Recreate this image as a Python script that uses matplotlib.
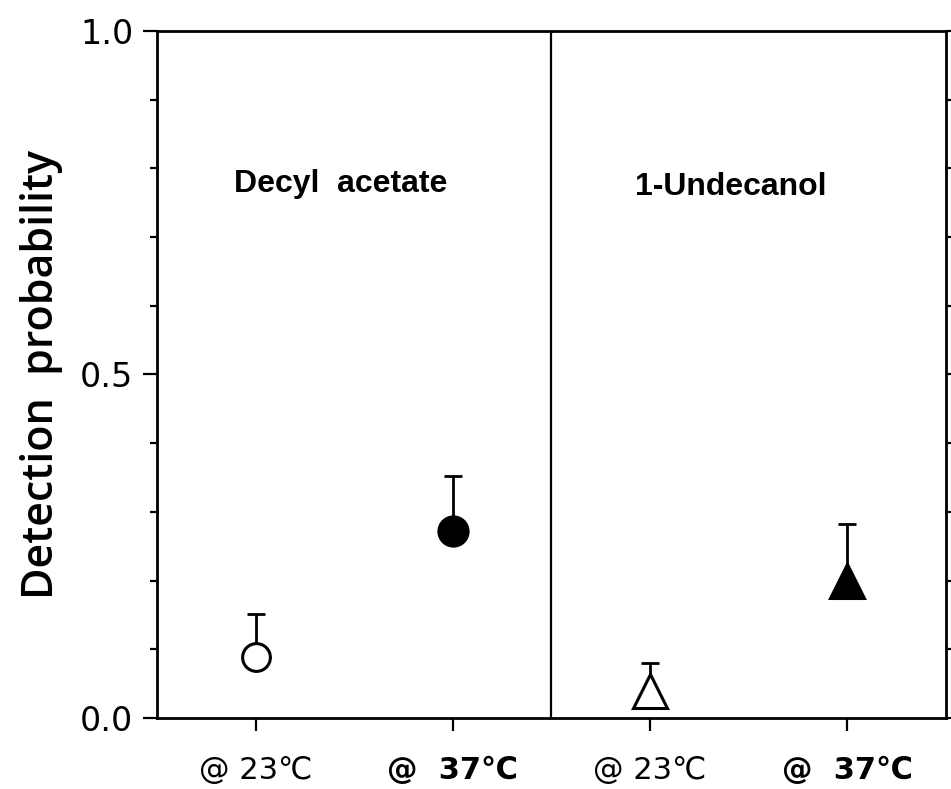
import numpy as np
import matplotlib
matplotlib.use('Agg')
from matplotlib import pyplot as plt

# data
positions = [1, 2, 3, 4]
prob = [0.089, 0.272, 0.040, 0.200]
err_up = [0.062, 0.080, 0.040, 0.082]
markers = ['o', 'o', '^', '^']
filled = [False, True, False, True]
msizes = [20, 21, 24, 24]
xlabels = ['@ 23\u2103', '@  37\u2103', '@ 23\u2103', '@  37\u2103']
xbold = [False, True, False, True]
groups = ['Decyl  acetate', '1-Undecanol']
group_x = [1.43, 3.41]
group_y = [0.777, 0.773]

fig = plt.figure(figsize=(9.51, 7.89), dpi=100)
ax = fig.add_axes([0.165, 0.09, 0.8297, 0.8707])

for i in range(4):
	ax.errorbar(positions[i], prob[i], yerr=[[0], [err_up[i]]], fmt='none',
				ecolor='black', elinewidth=2, capsize=6.5, capthick=2, zorder=2)
	ax.plot(positions[i], prob[i], marker=markers[i], ms=msizes[i],
			mfc='black' if filled[i] else 'white', mec='black', mew=2.2,
			linestyle='none', zorder=3)

ax.axvline(2.5, color='black', lw=1.6)

for i in range(2):
	ax.text(group_x[i], group_y[i], groups[i], ha='center', va='center',
			fontsize=23, fontweight='bold', family=['Liberation Sans', 'DejaVu Sans'])

ax.set_xlim(0.5, 4.5)
ax.set_ylim(0, 1)
ax.set_xticks(positions)
ax.set_xticklabels([])
for i in range(4):
	ax.text(positions[i], -0.076, xlabels[i], ha='center', va='center',
			fontsize=22, family=['DejaVu Sans'],
			fontweight='bold' if xbold[i] else 'normal')
ax.set_yticks([0, 0.5, 1.0])
ax.set_yticklabels(['0.0', '0.5', '1.0'], fontsize=24)
ax.set_yticks(np.arange(0, 1.01, 0.1), minor=True)
ax.tick_params(axis='y', which='both', right=True, direction='out', width=1.6)
ax.tick_params(axis='y', which='major', length=10, pad=7)
ax.tick_params(axis='y', which='minor', length=5)
ax.tick_params(axis='x', which='major', length=9.5, width=1.6)
for s in ax.spines.values():
	s.set_linewidth(2)

ax.set_ylabel('Detection  probability', fontsize=31, labelpad=12,
			  family=['Open Sans', 'DejaVu Sans'], fontweight='semibold')

fig.savefig('out.png', dpi=100)
